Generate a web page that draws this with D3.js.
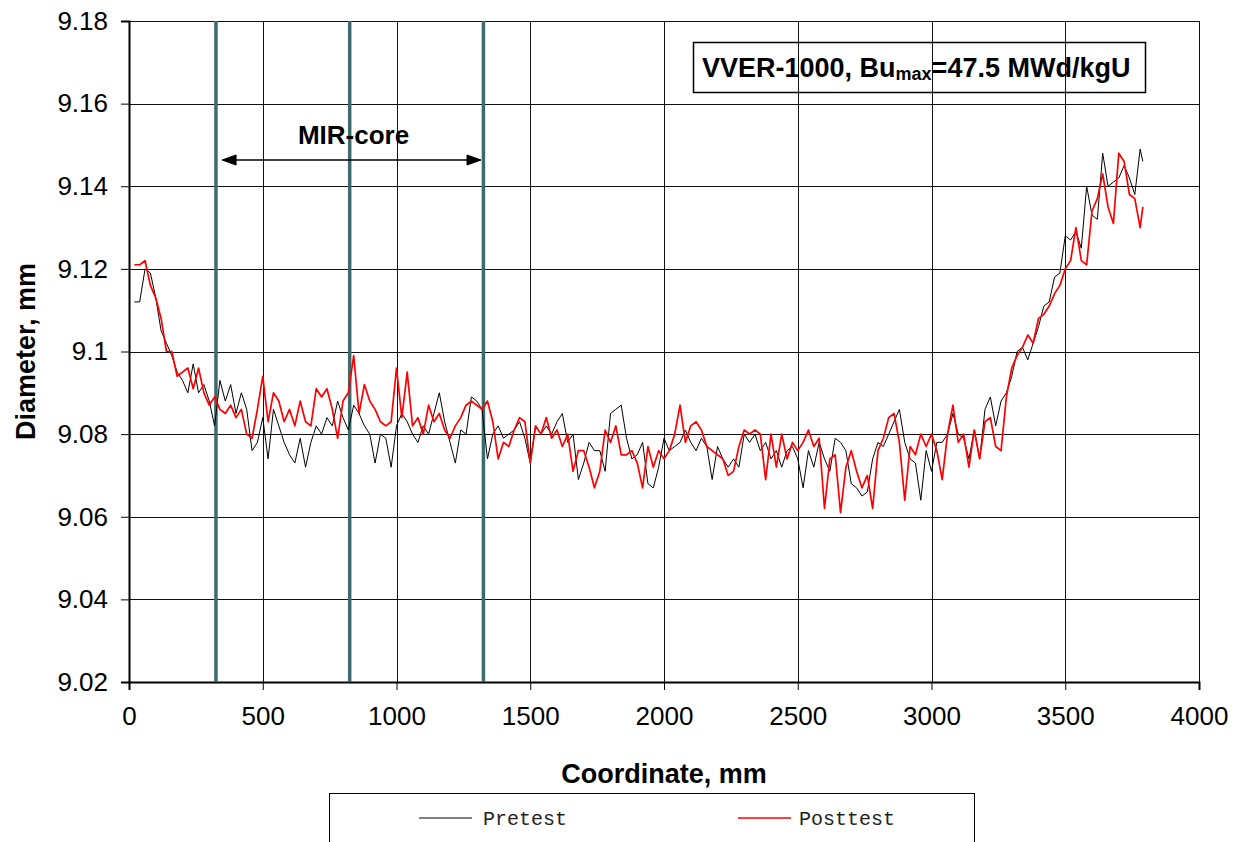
<!DOCTYPE html>
<html>
<head>
<meta charset="utf-8">
<script src="https://cdn.jsdelivr.net/npm/d3@7"></script>
<style>
  body { margin: 0; background: #fff; }
  svg { display: block; }
</style>
</head>
<body>
<div id="chart"></div>
<script>
// measurement positions along the rod, mm
var coordinates = [
  20, 40, 60, 80, 100, 120, 140, 160, 180, 200,
  220, 240, 260, 280, 300, 320, 340, 360, 380, 400,
  420, 440, 460, 480, 500, 520, 540, 560, 580, 600,
  620, 640, 660, 680, 700, 720, 740, 760, 780, 800,
  820, 840, 860, 880, 900, 920, 940, 960, 980, 1000,
  1020, 1040, 1060, 1080, 1100, 1120, 1140, 1160, 1180, 1200,
  1220, 1240, 1260, 1280, 1300, 1320, 1340, 1360, 1380, 1400,
  1420, 1440, 1460, 1480, 1500, 1520, 1540, 1560, 1580, 1600,
  1620, 1640, 1660, 1680, 1700, 1720, 1740, 1760, 1780, 1800,
  1820, 1840, 1860, 1880, 1900, 1920, 1940, 1960, 1980, 2000,
  2020, 2040, 2060, 2080, 2100, 2120, 2140, 2160, 2180, 2200,
  2220, 2240, 2260, 2280, 2300, 2320, 2340, 2360, 2380, 2400,
  2420, 2440, 2460, 2480, 2500, 2520, 2540, 2560, 2580, 2600,
  2620, 2640, 2660, 2680, 2700, 2720, 2740, 2760, 2780, 2800,
  2820, 2840, 2860, 2880, 2900, 2920, 2940, 2960, 2980, 3000,
  3020, 3040, 3060, 3080, 3100, 3120, 3140, 3160, 3180, 3200,
  3220, 3240, 3260, 3280, 3300, 3320, 3340, 3360, 3380, 3400,
  3420, 3440, 3460, 3480, 3500, 3520, 3540, 3560, 3580, 3600,
  3620, 3640, 3660, 3680, 3700, 3720, 3740, 3760, 3780, 3790
];

var pretest = [
  9.112, 9.112, 9.120, 9.119, 9.113, 9.105, 9.102, 9.099, 9.095, 9.093,
  9.090, 9.097, 9.090, 9.092, 9.088, 9.082, 9.093, 9.088, 9.092, 9.085,
  9.090, 9.086, 9.076, 9.078, 9.084, 9.074, 9.086, 9.082, 9.078, 9.075,
  9.073, 9.079, 9.072, 9.078, 9.082, 9.080, 9.084, 9.082, 9.088, 9.084,
  9.081, 9.087, 9.085, 9.082, 9.080, 9.073, 9.080, 9.079, 9.072, 9.082,
  9.085, 9.083, 9.080, 9.078, 9.082, 9.080, 9.085, 9.090, 9.083, 9.078,
  9.073, 9.081, 9.080, 9.089, 9.088, 9.086, 9.074, 9.080, 9.082, 9.079,
  9.080, 9.081, 9.083, 9.079, 9.073, 9.082, 9.080, 9.082, 9.080, 9.083,
  9.085, 9.078, 9.080, 9.069, 9.073, 9.078, 9.076, 9.076, 9.071, 9.085,
  9.086, 9.087, 9.079, 9.074, 9.075, 9.078, 9.068, 9.067, 9.072, 9.079,
  9.076, 9.077, 9.078, 9.081, 9.078, 9.076, 9.079, 9.077, 9.069, 9.077,
  9.074, 9.072, 9.074, 9.072, 9.080, 9.078, 9.080, 9.076, 9.078, 9.074,
  9.076, 9.072, 9.076, 9.077, 9.074, 9.067, 9.076, 9.072, 9.078, 9.074,
  9.071, 9.079, 9.078, 9.076, 9.068, 9.067, 9.065, 9.066, 9.074, 9.078,
  9.077, 9.080, 9.083, 9.086, 9.078, 9.074, 9.073, 9.064, 9.076, 9.071,
  9.078, 9.078, 9.080, 9.085, 9.080, 9.079, 9.074, 9.081, 9.074, 9.086,
  9.089, 9.082, 9.088, 9.090, 9.094, 9.100, 9.101, 9.098, 9.102, 9.106,
  9.111, 9.112, 9.118, 9.119, 9.128, 9.127, 9.129, 9.125, 9.140, 9.133,
  9.132, 9.148, 9.140, 9.141, 9.142, 9.145, 9.142, 9.138, 9.149, 9.146
];

var posttest = [
  9.121, 9.121, 9.122, 9.116, 9.113, 9.108, 9.100, 9.100, 9.094, 9.095,
  9.096, 9.091, 9.096, 9.090, 9.087, 9.089, 9.086, 9.085, 9.087, 9.084,
  9.086, 9.080, 9.079, 9.086, 9.094, 9.083, 9.090, 9.088, 9.083, 9.086,
  9.082, 9.088, 9.083, 9.082, 9.091, 9.089, 9.091, 9.086, 9.079, 9.088,
  9.090, 9.099, 9.085, 9.092, 9.088, 9.086, 9.083, 9.082, 9.083, 9.096,
  9.084, 9.095, 9.082, 9.084, 9.080, 9.087, 9.083, 9.085, 9.081, 9.079,
  9.082, 9.084, 9.087, 9.088, 9.087, 9.086, 9.088, 9.083, 9.074, 9.078,
  9.077, 9.081, 9.084, 9.083, 9.073, 9.082, 9.080, 9.084, 9.079, 9.081,
  9.077, 9.080, 9.071, 9.076, 9.076, 9.072, 9.067, 9.071, 9.081, 9.078,
  9.082, 9.075, 9.075, 9.076, 9.073, 9.067, 9.077, 9.072, 9.076, 9.074,
  9.076, 9.080, 9.087, 9.078, 9.082, 9.083, 9.081, 9.077, 9.076, 9.075,
  9.074, 9.070, 9.071, 9.077, 9.081, 9.080, 9.081, 9.080, 9.069, 9.080,
  9.072, 9.080, 9.074, 9.078, 9.076, 9.078, 9.081, 9.077, 9.079, 9.062,
  9.074, 9.075, 9.061, 9.072, 9.076, 9.071, 9.067, 9.070, 9.062, 9.076,
  9.079, 9.084, 9.085, 9.078, 9.064, 9.077, 9.075, 9.080, 9.077, 9.080,
  9.076, 9.069, 9.080, 9.087, 9.078, 9.080, 9.072, 9.081, 9.074, 9.083,
  9.084, 9.077, 9.076, 9.089, 9.096, 9.099, 9.101, 9.104, 9.102, 9.108,
  9.109, 9.111, 9.114, 9.116, 9.120, 9.122, 9.130, 9.122, 9.121, 9.134,
  9.137, 9.143, 9.135, 9.131, 9.148, 9.146, 9.138, 9.137, 9.130, 9.135
];

var xTicks = [0, 500, 1000, 1500, 2000, 2500, 3000, 3500, 4000];
var yTicks = [9.02, 9.04, 9.06, 9.08, 9.10, 9.12, 9.14, 9.16, 9.18];
var coreLines = [325, 825, 1325];        // vertical markers, mm
var coreArrow = [348, 1316];             // arrow tips, mm

var seriesNames = ["Pretest", "Posttest"];
var seriesColors = ["#000000", "#ff0000"];

var width = 1247, height = 842;
var margin = {top: 21, right: 48, bottom: 160, left: 129};
var innerWidth = width - margin.left - margin.right,
    innerHeight = height - margin.top - margin.bottom;

var sans = "Liberation Sans, Arial, sans-serif";

var svg = d3.select("#chart").append("svg")
    .attr("width", width)
    .attr("height", height);

var x = d3.scaleLinear().domain([0, 4000]).range([0, innerWidth]);
var y = d3.scaleLinear().domain([9.02, 9.18]).range([innerHeight, 0]);

var g = svg.append("g")
    .attr("transform", "translate(" + margin.left + "," + margin.top + ")");

// grid
g.append("g").selectAll("line")
    .data(yTicks)
  .enter().append("line")
    .attr("x1", 0).attr("x2", innerWidth)
    .attr("y1", function(d) { return Math.round(y(d)) + 0.5; })
    .attr("y2", function(d) { return Math.round(y(d)) + 0.5; })
    .attr("stroke", "#111").attr("stroke-width", 1);

g.append("g").selectAll("line")
    .data(xTicks)
  .enter().append("line")
    .attr("y1", 0).attr("y2", innerHeight)
    .attr("x1", function(d) { return Math.round(x(d)) + 0.5; })
    .attr("x2", function(d) { return Math.round(x(d)) + 0.5; })
    .attr("stroke", "#111").attr("stroke-width", 1);

// axes
var yAxis = d3.axisLeft(y).tickValues(yTicks).tickSize(8).tickPadding(13)
    .tickFormat(function(d) { return String(+d.toFixed(2)); });
var xAxis = d3.axisBottom(x).tickValues(xTicks).tickSize(8).tickPadding(17)
    .tickFormat(d3.format("d"));

var yAxisG = g.append("g").call(yAxis);
var xAxisG = g.append("g").attr("transform", "translate(0," + innerHeight + ")").call(xAxis);
[yAxisG, xAxisG].forEach(function(a) {
  a.attr("font-family", sans).attr("font-size", 26);
  a.select(".domain").attr("stroke", "#000").attr("stroke-width", 2);
  a.selectAll(".tick line").attr("stroke", "#000");
  a.selectAll(".tick text").attr("fill", "#000");
});

// MIR-core markers
g.append("g").selectAll("line")
    .data(coreLines)
  .enter().append("line")
    .attr("x1", function(d) { return x(d); })
    .attr("x2", function(d) { return x(d); })
    .attr("y1", 0).attr("y2", innerHeight)
    .attr("stroke", "#3d6b6b").attr("stroke-width", 3.5);

// data lines
var line = d3.line()
    .x(function(d) { return x(d[0]); })
    .y(function(d) { return y(d[1]); });

[pretest, posttest].forEach(function(values, i) {
  g.append("path")
    .datum(coordinates.map(function(c, j) { return [c, values[j]]; }))
    .attr("fill", "none")
    .attr("stroke", seriesColors[i])
    .attr("stroke-width", i === 0 ? 1 : 1.7)
    .attr("stroke-linejoin", "round")
    .attr("d", line);
});

// arrow with label
var ay = 139;
var ax1 = x(coreArrow[0]), ax2 = x(coreArrow[1]);
g.append("line")
    .attr("x1", ax1 + 4).attr("x2", ax2 - 4).attr("y1", ay).attr("y2", ay)
    .attr("stroke", "#000").attr("stroke-width", 1.3);
g.append("path")
    .attr("d", "M" + (ax1 + 14) + "," + (ay - 5) + "L" + ax1 + "," + ay + "L" + (ax1 + 14) + "," + (ay + 5) + "Z" +
               "M" + (ax2 - 14) + "," + (ay - 5) + "L" + ax2 + "," + ay + "L" + (ax2 - 14) + "," + (ay + 5) + "Z")
    .attr("fill", "#000").attr("stroke", "#000").attr("stroke-width", 1);
g.append("text")
    .attr("x", (ax1 + ax2) / 2 + 2).attr("y", ay - 16)
    .attr("text-anchor", "middle")
    .style("font-family", sans)
    .style("font-size", "26px").style("font-weight", "bold")
    .text("MIR-core");

// burnup annotation box
svg.append("rect")
    .attr("x", 693.5).attr("y", 42.5).attr("width", 452).attr("height", 50)
    .attr("fill", "none").attr("stroke", "#000").attr("stroke-width", 1.5);
var note = svg.append("text")
    .attr("x", 702).attr("y", 77)
    .style("font-family", sans)
    .style("font-size", "27px").style("font-weight", "bold");
note.append("tspan").text("VVER-1000, Bu");
note.append("tspan").attr("dy", 3).style("font-size", "18px").text("max");
note.append("tspan").attr("dy", -3).text("=47.5 MWd/kgU");

// axis titles
svg.append("text")
    .attr("x", margin.left + innerWidth / 2).attr("y", 783)
    .attr("text-anchor", "middle")
    .style("font-family", sans)
    .style("font-size", "27px").style("font-weight", "bold")
    .text("Coordinate, mm");
svg.append("text")
    .attr("transform", "translate(35," + (margin.top + innerHeight / 2) + ") rotate(-90)")
    .attr("text-anchor", "middle")
    .style("font-family", sans)
    .style("font-size", "27px").style("font-weight", "bold")
    .text("Diameter, mm");

// legend
svg.append("rect")
    .attr("x", 329.5).attr("y", 793.5).attr("width", 645).attr("height", 60)
    .attr("fill", "none").attr("stroke", "#000").attr("stroke-width", 1);
var legend = svg.append("g").selectAll("g")
    .data(seriesNames)
  .enter().append("g")
    .attr("transform", function(d, i) { return "translate(" + (419 + i * 319) + ",818)"; });
legend.append("line")
    .attr("x1", 0).attr("x2", 53)
    .attr("stroke", function(d, i) { return seriesColors[i]; })
    .attr("stroke-width", function(d, i) { return i === 0 ? 1 : 1.7; });
legend.append("text")
    .attr("x", function(d, i) { return i === 0 ? 64 : 61; }).attr("y", 7)
    .attr("fill", "#222")
    .style("font-family", "Liberation Mono, Courier New, monospace")
    .style("font-size", "20px")
    .text(function(d) { return d; });
</script>
</body>
</html>
